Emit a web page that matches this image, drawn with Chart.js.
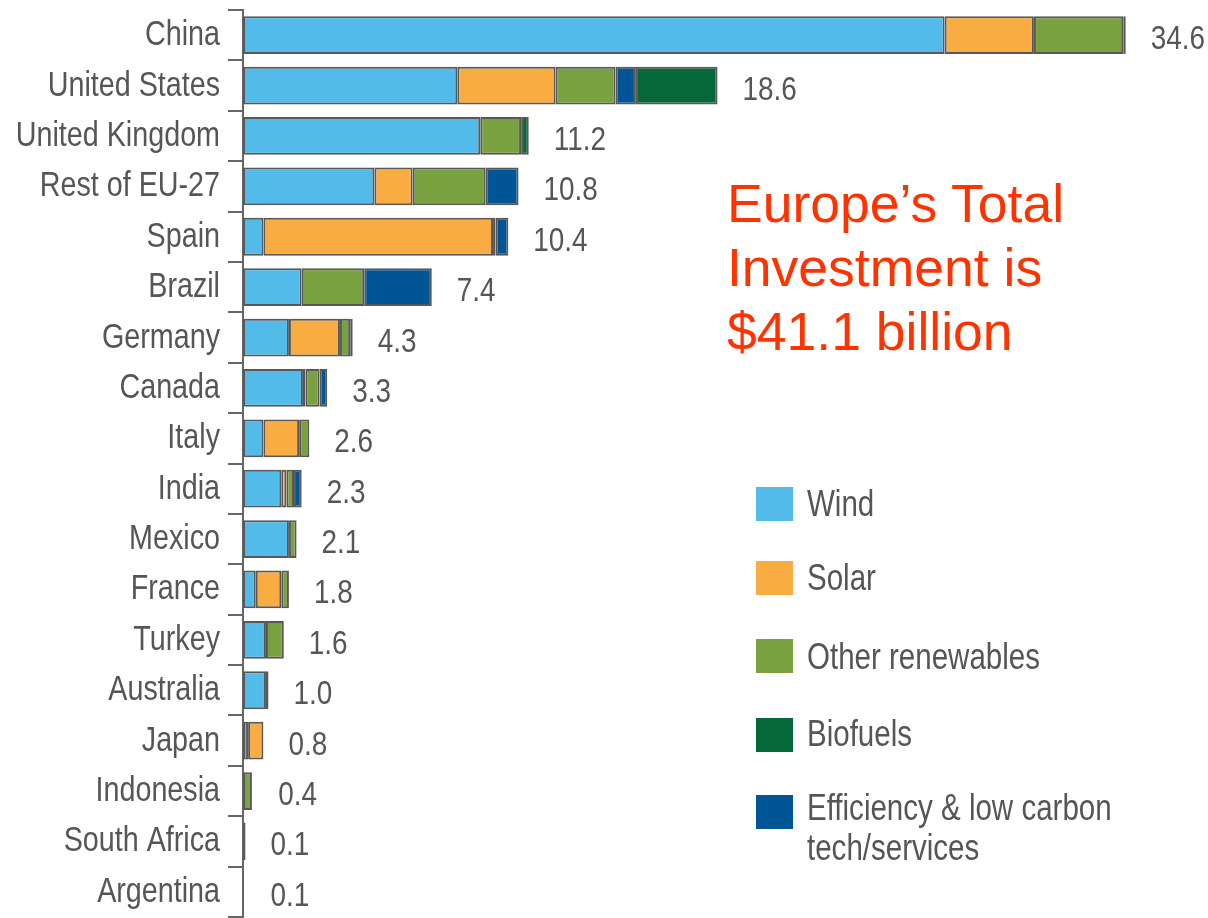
<!DOCTYPE html>
<html>
<head>
<meta charset="utf-8">
<script src="https://cdn.jsdelivr.net/npm/chart.js@4"></script>
<style>
  html, body { margin: 0; padding: 0; background: #ffffff; }
  #wrap { position: relative; width: 1208px; height: 918px; overflow: hidden; }
  #c { position: absolute; left: 0; top: 0; }
  #note { position: absolute; left: 727px; top: 172px; font-family: 'Liberation Sans', Arial, sans-serif;
          font-size: 53.5px; line-height: 64px; color: #ff3300; white-space: nowrap; }
  .lt { position: absolute; left: 807px; font-family: 'Liberation Sans', Arial, sans-serif; font-size: 36px;
        line-height: 36px; color: #565656; white-space: nowrap; transform: scaleX(0.82); transform-origin: 0 0; }
  .sw { position: absolute; left: 756px; width: 37px; height: 34px; }
</style>
</head>
<body>
<div id="wrap">
  <canvas id="c" width="1208" height="918"></canvas>
  <div id="note">Europe’s Total<br>Investment is<br>$41.1 billion</div>
  <div id="legend"></div>
</div>
<script>
const categories = ["China","United States","United Kingdom","Rest of EU-27","Spain","Brazil","Germany","Canada","Italy","India","Mexico","France","Turkey","Australia","Japan","Indonesia","South Africa","Argentina"];
const wind       = [27.5, 8.4, 9.3, 5.15, 0.8, 2.3, 1.8, 2.35, 0.8, 1.5, 1.8, 0.5, 0.9, 0.9, 0.2, null, null, null];
const solar      = [3.5, 3.85, null, 1.5, 9.0, null, 2.0, 0.1, 1.4, 0.2, null, 1.0, null, null, 0.6, null, null, null];
const otherRen   = [3.5, 2.35, 1.6, 2.85, 0.1, 2.45, 0.4, 0.55, 0.4, 0.3, 0.3, 0.3, 0.7, 0.1, null, 0.35, 0.1, null];
const efficiency = [0.1, 0.8, null, 1.3, 0.5, 2.65, 0.1, 0.3, null, 0.3, null, null, null, null, null, null, null, null];
const biofuels   = [null, 3.2, 0.3, null, null, null, null, null, null, null, null, null, null, null, null, null, null, null];
const totalLabels = ["34.6","18.6","11.2","10.8","10.4","7.4","4.3","3.3","2.6","2.3","2.1","1.8","1.6","1.0","0.8","0.4","0.1","0.1"];
const totalValues = [34.6, 18.6, 11.2, 10.8, 10.4, 7.4, 4.3, 3.3, 2.6, 2.3, 2.1, 1.8, 1.6, 1.0, 0.8, 0.4, 0.1, 0.1];

const seriesNames  = ["Wind", "Solar", "Other renewables", "Efficiency & low carbon tech/services", "Biofuels"];
const seriesColors = ["#52bbea", "#f9ac42", "#7aa13f", "#005596", "#066838"];
const seriesData   = [wind, solar, otherRen, efficiency, biofuels];

// legend order and layout as in the picture
const legendOrder = [0, 1, 2, 4, 3];
const legendLines = { 3: ["Efficiency & low carbon", "tech/services"] };
const legendTops  = [487, 561, 639, 718, 795];
const legendBaselines = [516, 590, 669, 746, 820];

const textGrey = "#565656";
const FONT = "'Liberation Sans', Arial, sans-serif";
const SQUEEZE = 0.82;

function drawNarrowText(ctx, text, x, y, align) {
  ctx.save();
  ctx.translate(x, y);
  ctx.scale(SQUEEZE, 1);
  ctx.textAlign = align;
  ctx.textBaseline = 'alphabetic';
  ctx.fillText(text, 0, 0);
  ctx.restore();
}

const textLabels = {
  id: 'textLabels',
  afterDatasetsDraw(chart) {
    const ctx = chart.ctx;
    const xs = chart.scales.x, ys = chart.scales.y;
    ctx.save();
    ctx.fillStyle = textGrey;
    ctx.font = "35px " + FONT;
    categories.forEach((c, i) => {
      const y = ys.getPixelForValue(i) + 10;
      drawNarrowText(ctx, c, ys.right - 15 - 8, y, 'right');
    });
    ctx.font = "34px " + FONT;
    totalValues.forEach((v, i) => {
      const x = xs.getPixelForValue(v) + 25;
      const y = ys.getPixelForValue(i) + 14;
      drawNarrowText(ctx, totalLabels[i], x, y, 'left');
    });
    ctx.restore();
  }
};

const chart = new Chart(document.getElementById('c'), {
  type: 'bar',
  data: {
    labels: categories,
    datasets: seriesData.map((d, k) => ({
      label: seriesNames[k],
      data: d,
      backgroundColor: seriesColors[k],
      borderColor: "#585858",
      borderWidth: 2,
      borderSkipped: false,
      barPercentage: 0.75,
      categoryPercentage: 1.0
    }))
  },
  options: {
    indexAxis: 'y',
    responsive: false,
    animation: false,
    devicePixelRatio: 1,
    layout: { padding: { top: 10, bottom: 1, right: 21, left: 0 } },
    plugins: { legend: { display: false }, tooltip: { enabled: false } },
    scales: {
      x: { display: false, stacked: true, min: 0, max: 37 },
      y: {
        stacked: true,
        offset: true,
        afterFit(scale) { scale.width = 243; },
        border: { display: true, color: "#666666", width: 2 },
        grid: { display: true, offset: true, drawOnChartArea: false, drawTicks: true, tickLength: 15, color: "#666666", lineWidth: 2 },
        ticks: { display: false }
      }
    }
  },
  plugins: [textLabels]
});

// HTML legend built from the series arrays
const leg = document.getElementById('legend');
legendOrder.forEach((k, j) => {
  const sw = document.createElement('div');
  sw.className = 'sw';
  sw.style.top = legendTops[j] + 'px';
  sw.style.background = seriesColors[k];
  leg.appendChild(sw);
  const lines = legendLines[k] || [seriesNames[k]];
  lines.forEach((s, li) => {
    const t = document.createElement('div');
    t.className = 'lt';
    t.style.top = (legendBaselines[j] + li * 40 - 30.5) + 'px';
    t.textContent = s;
    leg.appendChild(t);
  });
});
</script>
</body>
</html>
